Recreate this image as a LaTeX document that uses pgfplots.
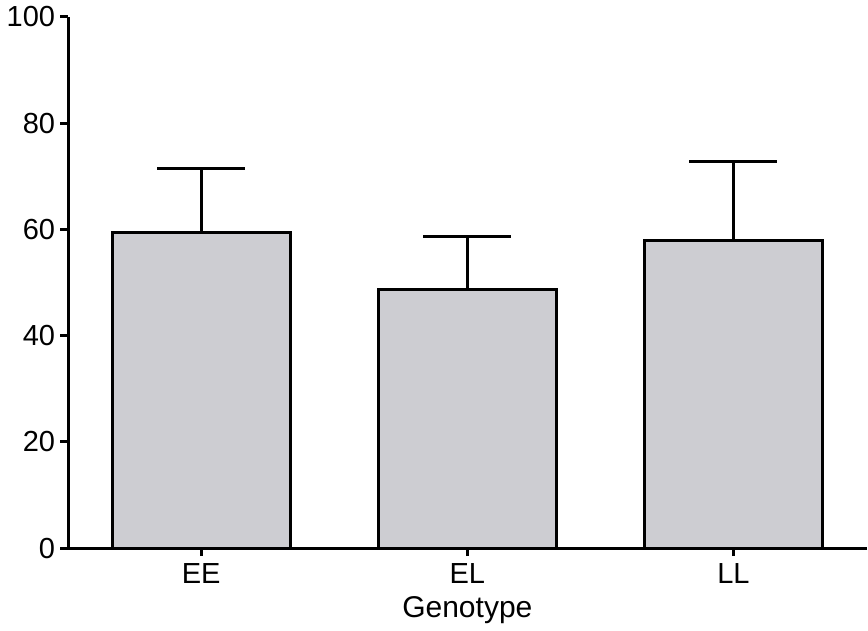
\documentclass[border=0pt]{standalone}
\usepackage{fontspec}
\setmainfont{Liberation Sans}
\usepackage{pgfplots}
\pgfplotsset{compat=1.18}
\definecolor{barfill}{RGB}{205,205,210}
\begin{document}
\begin{tikzpicture}
\begin{axis}[
  scale only axis, width=399pt, height=265.5pt,
  xmin=-0.5, xmax=2.5, ymin=0, ymax=100,
  axis lines=left, axis line style={-, line width=1.5pt},
  xtick={0,1,2}, xticklabels={EE,EL,LL},
  ytick={0,20,40,60,80,100},
  tick style={line width=1.5pt, black}, tick align=outside, major tick length=4pt,
  tick label style={font=\fontsize{14.5}{17}\selectfont},
  yticklabel style={xshift=1pt},
  /pgf/number format/assume math mode=true,
  xlabel={Genotype}, xlabel style={font=\fontsize{15}{18}\selectfont},
  clip=false,
]
\addplot[ybar, bar width=0.67, fill=barfill, draw=black, line width=1.5pt,
  error bars/.cd, y dir=plus, y explicit,
  error bar style={line width=1.5pt, black},
  error mark options={rotate=90, mark size=22pt, line width=1.5pt, black}]
  coordinates {(0,59.5) +- (0,11.9) (1,48.7) +- (0,10.0) (2,57.9) +- (0,14.8)};
\end{axis}
\end{tikzpicture}
\end{document}
